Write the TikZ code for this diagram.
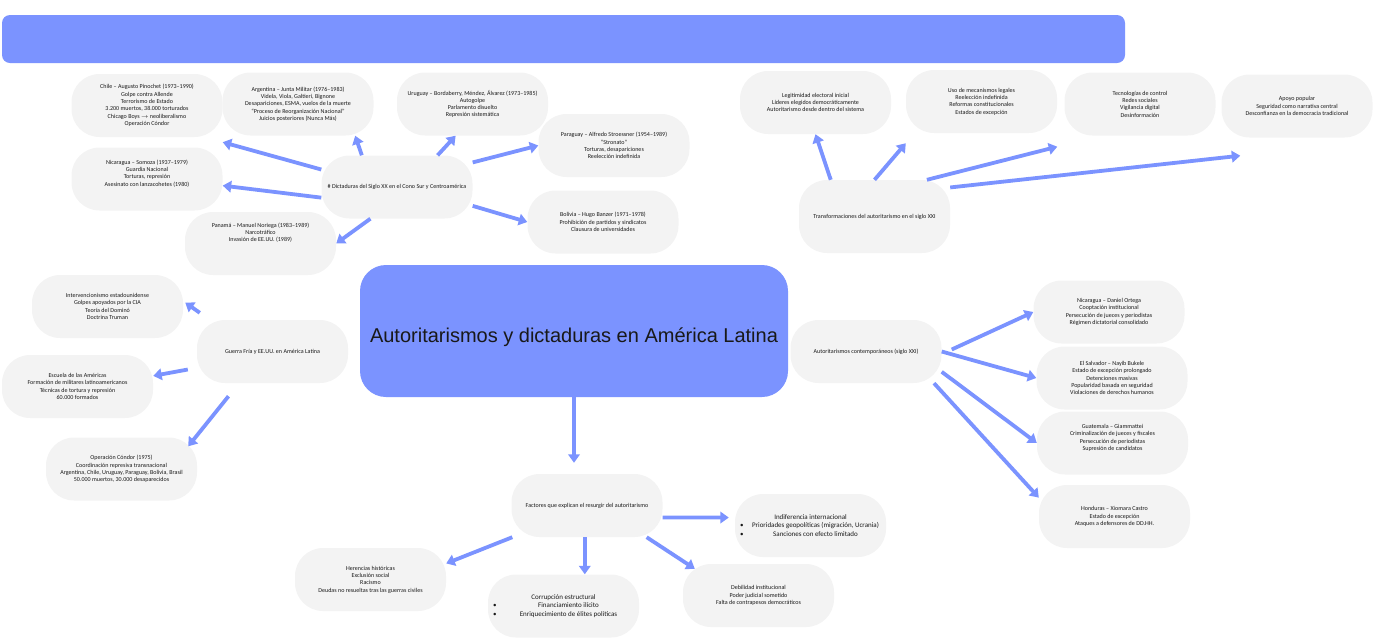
\documentclass[tikz,border=0pt]{standalone}
\usepackage{fontspec}
\setmainfont{Carlito}
\newfontfamily\titlefont{Liberation Sans}
\usepackage{xcolor}
\usepackage{tikz}
\usetikzlibrary{arrows.meta}
\definecolor{mapblue}{RGB}{123,147,255}
\definecolor{bubblegray}{RGB}{243,243,243}
\definecolor{inkgray}{RGB}{25,25,25}
\newcommand{\bulletline}[1]{\makebox[141pt]{\rlap{\textbullet}\hspace{10pt}\hfill#1\hfill}}

\begin{document}
\begin{tikzpicture}[x=1pt,y=-1pt,font=\fontsize{6.05}{7.3}\selectfont]
	\tikzstyle{bubble}=[fill=bubblegray,rounded corners=28pt,minimum width=151pt,minimum height=63pt,inner sep=0pt,align=center,text=inkgray]
	\tikzstyle{bigtext}=[font=\fontsize{7}{8.5}\selectfont]
	\tikzstyle{arr}=[color=mapblue,line width=3.8pt,-{Triangle[width=11.5pt,length=8.5pt]}]
	\useasboundingbox (0,0) rectangle (1375,641);

	\node[fill=mapblue,rounded corners=8pt,minimum width=1123pt,minimum height=48pt](banner) at (563.5,39) {};
	\node[fill=mapblue,rounded corners=26pt,minimum width=428pt,minimum height=132pt,text=inkgray,text height=23pt,text depth=0pt,font=\titlefont\fontsize{20}{24}\selectfont](main) at (574,331) {Autoritarismos y dictaduras en América Latina};

	\node[bubble](dict) at (397,187) {\# Dictaduras del Siglo XX en el Cono Sur y Centroamérica};
	\node[bubble](chile) at (147,105.5) {Chile – Augusto Pinochet (1973–1990)\\Golpe contra Allende\\Terrorismo de Estado\\3.200 muertos, 38.000 torturados\\Chicago Boys $\rightarrow$ neoliberalismo\\Operación Cóndor};
	\node[bubble](argentina) at (298,104) {Argentina – Junta Militar (1976–1983)\\Videla, Viola, Galtieri, Bignone\\Desapariciones, ESMA, vuelos de la muerte\\“Proceso de Reorganización Nacional”\\Juicios posteriores (Nunca Más)};
	\node[bubble](nicsom) at (147,179) {Nicaragua – Somoza (1937–1979)\\Guardia Nacional\\Torturas, represión\\Asesinato con lanzacohetes (1980)\\[4.5pt]\mbox{}};
	\node[bubble](uruguay) at (472.5,104) {Uruguay – Bordaberry, Méndez, Álvarez (1973–1985)\\Autogolpe\\Parlamento disuelto\\Represión sistemática};
	\node[bubble](paraguay) at (614,145.5) {Paraguay – Alfredo Stroessner (1954–1989)\\“Stronato”\\Torturas, desapariciones\\Reelección indefinida};
	\node[bubble](bolivia) at (603,222) {Bolivia – Hugo Banzer (1971–1978)\\Prohibición de partidos y sindicatos\\Clausura de universidades};
	\node[bubble](panama) at (260.5,243.5) {Panamá – Manuel Noriega (1983–1989)\\Narcotráfico\\Invasión de EE.UU. (1989)\\[15pt]\mbox{}};

	\node[bubble,minimum height=73pt](trans) at (874.5,216.5) {Transformaciones del autoritarismo en el siglo XXI};
	\node[bubble](legit) at (815.5,102.5) {Legitimidad electoral inicial\\Líderes elegidos democráticamente\\Autoritarismo desde dentro del sistema};
	\node[bubble](uso) at (981.5,101.5) {Uso de mecanismos legales\\Reelección indefinida\\Reformas constitucionales\\Estados de excepción};
	\node[bubble](tecno) at (1140,104) {Tecnologías de control\\Redes sociales\\Vigilancia digital\\Desinformación};
	\node[bubble](apoyo) at (1297,106) {Apoyo popular\\Seguridad como narrativa central\\Desconfianza en la democracia tradicional};

	\node[bubble](guerra) at (272.5,351.5) {Guerra Fría y EE.UU. en América Latina};
	\node[bubble](interv) at (107.5,306.5) {Intervencionismo estadounidense\\Golpes apoyados por la CIA\\Teoría del Dominó\\Doctrina Truman};
	\node[bubble](escuela) at (77.5,386.5) {Escuela de las Américas\\Formación de militares latinoamericanos\\Técnicas de tortura y represión\\60.000 formados};
	\node[bubble](condor) at (121.5,469) {Operación Cóndor (1975)\\Coordinación represiva transnacional\\Argentina, Chile, Uruguay, Paraguay, Bolivia, Brasil\\50.000 muertos, 30.000 desaparecidos};

	\node[bubble](contemp) at (866,351.5) {Autoritarismos contemporáneos (siglo XXI)};
	\node[bubble](nicort) at (1109,312) {Nicaragua – Daniel Ortega\\Cooptación institucional\\Persecución de jueces y periodistas\\Régimen dictatorial consolidado};
	\node[bubble](elsal) at (1112,378) {El Salvador – Nayib Bukele\\Estado de excepción prolongado\\Detenciones masivas\\Popularidad basada en seguridad\\Violaciones de derechos humanos};
	\node[bubble](guate) at (1112.5,443) {Guatemala – Giammattei\\Criminalización de jueces y fiscales\\Persecución de periodistas\\Supresión de candidatos\\[4pt]\mbox{}};
	\node[bubble](hond) at (1114.5,516.5) {Honduras – Xiomara Castro\\Estado de excepción\\Ataques a defensores de DD.HH.};

	\node[bubble](factors) at (587,505.5) {Factores que explican el resurgir del autoritarismo};
	\node[bubble](heren) at (370.5,579.5) {Herencias históricas\\Exclusión social\\Racismo\\Deudas no resueltas tras las guerras civiles};
	\node[bubble,bigtext](corrup) at (563.5,606) {Corrupción estructural\\\bulletline{Financiamiento ilícito}\\\bulletline{Enriquecimiento de élites políticas}};
	\node[bubble,bigtext](indif) at (810.5,525.5) {Indiferencia internacional\\\bulletline{Prioridades geopolíticas (migración, Ucrania)}\\\bulletline{Sanciones con efecto limitado}};
	\node[bubble](debil) at (758.5,595.5) {Debilidad institucional\\Poder judicial sometido\\Falta de contrapesos democráticos};

	\path[arr] (dict.167) edge ([yshift=-5pt]chile.south east);
	\path[arr] (dict.188) edge (nicsom.-5);
	\path[arr] (dict.138) edge (argentina.-29);
	\path[arr] (dict.38) edge (uruguay.-118);
	\path[arr] (dict.18) edge (paraguay.west);
	\path[arr] (dict.-14) edge (bolivia.west);
	\path[arr] (dict.-130) edge (panama.east);

	\path[arr] (trans.140) edge (legit.south);
	\path[arr] (trans.north) edge ([yshift=-10pt]uso.south west);
	\path[arr] (trans.35) edge ([xshift=-7pt,yshift=-11pt]tecno.south west);
	\path[arr] (trans.21) edge ([xshift=19pt,yshift=-18pt]apoyo.south west);

	\path[arr] ([xshift=3pt,yshift=7pt]guerra.north west) edge ([xshift=2pt,yshift=4pt]interv.east);
	\path[arr] ([xshift=-9pt,yshift=-18pt]guerra.west) edge (escuela.8);
	\path[arr] ([xshift=-44pt,yshift=-13pt]guerra.south) edge ([xshift=-9pt,yshift=-9pt]condor.north east);

	\path[arr] ([xshift=10pt,yshift=2pt]contemp.east) edge (nicort.west);
	\path[arr] (contemp.east) edge (elsal.west);
	\path[arr] (contemp.-15) edge (guate.west);
	\path[arr] (contemp.-25) edge (hond.166);

	\path[arr] (main.south) edge[shorten >=11pt] (main.south |- factors.north);
	\path[arr] (factors.-157) edge (heren.12);
	\path[arr] (factors.-94) edge (factors.-94 |- corrup.north);
	\path[arr] (factors.-9) edge[shorten >=6pt] (indif.174);
	\path[arr] (factors.-28) edge ([xshift=12pt,yshift=-5pt]debil.north west);
\end{tikzpicture}
\end{document}
